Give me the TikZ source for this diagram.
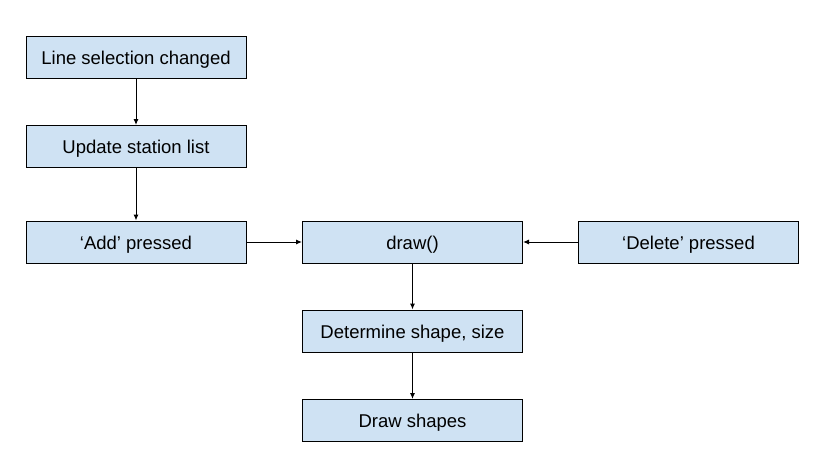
\documentclass[tikz,border=0pt]{standalone}
\usepackage{fontspec}
\setmainfont{Liberation Sans}
\usetikzlibrary{arrows.meta}
\definecolor{boxfill}{HTML}{CFE2F3}
\begin{document}
\begin{tikzpicture}[x=1pt,y=-1pt,
  box/.style={draw=black,line width=1pt,fill=boxfill,minimum width=220pt,minimum height=42pt,inner sep=0pt,text height=18pt,text depth=3.7pt,font=\fontsize{18.5}{22}\selectfont},
  conn/.style={draw=black,line width=1pt,-{Latex[length=6pt,width=5pt]}}]
\useasboundingbox (0,0) rectangle (822,469);
\node[box] (lsc) at (136,57) {Line selection changed};
\node[box] (usl) at (136,146.5) {Update station list};
\node[box] (add) at (136,242) {‘Add’ pressed};
\node[box] (drw) at (412.5,242) {draw()};
\node[box] (del) at (688.5,242) {‘Delete’ pressed};
\node[box] (det) at (412.5,331) {Determine shape, size};
\node[box] (dsh) at (412.5,420.5) {Draw shapes};
\draw[conn] (lsc) -- (usl);
\draw[conn] (usl) -- (add);
\draw[conn] (add) -- (drw);
\draw[conn] (del) -- (drw);
\draw[conn] (drw) -- (det);
\draw[conn] (det) -- (dsh);
\end{tikzpicture}
\end{document}
